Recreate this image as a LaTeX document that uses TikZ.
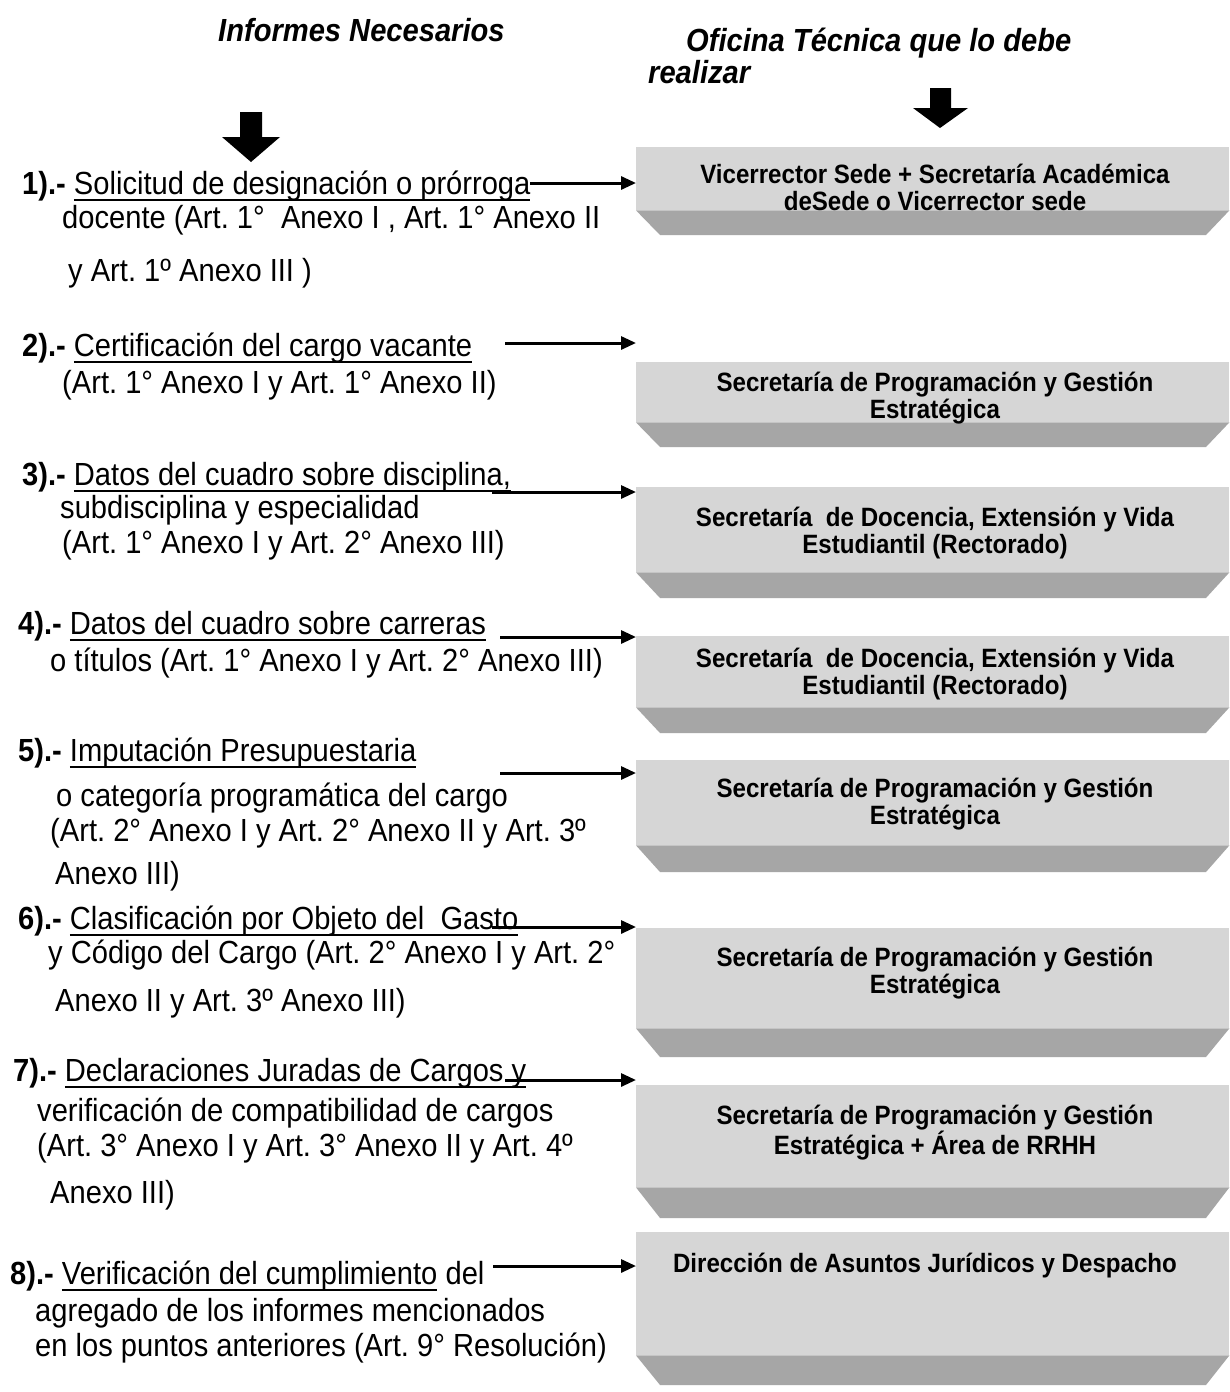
\documentclass[tikz,border=0pt]{standalone}
\usepackage{fontspec}
\setmainfont{Liberation Sans}[FakeStretch=0.91]
\usetikzlibrary{arrows.meta}
\definecolor{facegray}{RGB}{214,214,214}
\definecolor{bevelgray}{RGB}{166,166,166}
\frenchspacing
\newsavebox{\ulbox}
\newcommand{\myul}[1]{\savebox{\ulbox}{#1}\leavevmode\rlap{\rule[-6.5pt]{\wd\ulbox}{2pt}}\usebox{\ulbox}}
\tikzset{
  txt/.style={anchor=base west, inner sep=0pt, font=\fontsize{32}{36}\selectfont},
  head/.style={anchor=base west, inner sep=0pt, font=\bfseries\itshape\fontsize{32}{36}\selectfont},
  btxt/.style={align=center, inner sep=0pt, font=\bfseries\fontsize{26.5}{27}\selectfont},
  face/.style={fill=facegray, draw=none, anchor=north west, minimum width=593pt, inner sep=0pt},
  bevel/.style={fill=bevelgray, draw=none},
  conn/.style={line width=3pt, -{Triangle[length=15pt,width=13pt]}},
  blockarrow/.style={fill=black}
}
\newcommand{\officebox}[4]{%
  \node[face, minimum height={(#4-#3)*1pt}] (#1) at (636,#3) {};
  \fill[bevel] (#1.south west) -- (#1.south east) -- (1206,#2) -- (660,#2) -- cycle;
}
\begin{document}
\begin{tikzpicture}[x=1pt,y=-1pt]
\useasboundingbox (0,0) rectangle (1229,1392);
\fill[white] (0,0) rectangle (1229,1392);

% headers
\node[head] (h1) at (218,41) {Informes Necesarios};
\node[head] (h2) at (686,51) {Oficina Técnica que lo debe};
\node[head] (h3) at (648,83) {realizar};
\fill[blockarrow] (240,112) -- (262,112) -- (262,137) -- (280,137) -- (251,162) -- (222,137) -- (240,137) -- cycle;
\fill[blockarrow] (930,88) -- (951,88) -- (951,108) -- (968,108) -- (940,128) -- (913,108) -- (930,108) -- cycle;

% boxes: name, bevel bottom, face top, bevel top
\officebox{b1}{235}{147}{210}
\officebox{b2}{447}{362}{422}
\officebox{b3}{598}{487}{572}
\officebox{b4}{733}{636}{707}
\officebox{b5}{872}{760}{845}
\officebox{b6}{1057}{928}{1028}
\officebox{b7}{1218}{1085}{1187}
\officebox{b8}{1385}{1232}{1355}

\node[btxt] (t1) at (935,187) {Vicerrector Sede + Secretaría Académica\\deSede o Vicerrector sede};
\node[btxt] (t2) at (935,398) {Secretaría de Programación y Gestión\\Estratégica};
\node[btxt] (t3) at (935,533) {Secretaría\ \ de Docencia, Extensión y Vida\\Estudiantil (Rectorado)};
\node[btxt] (t4) at (935,674) {Secretaría\ \ de Docencia, Extensión y Vida\\Estudiantil (Rectorado)};
\node[btxt] (t5) at (935,804) {Secretaría de Programación y Gestión\\Estratégica};
\node[btxt] (t6) at (935,973) {Secretaría de Programación y Gestión\\Estratégica};
\node[btxt] (t7) at (935,1133) {Secretaría de Programación y Gestión\\Estratégica + Área de RRHH};
\node[btxt] (t8) at (925,1266) {Dirección de Asuntos Jurídicos y Despacho};

% item 1
\node[txt] (i1a) at (22,194) {\textbf{1).-} \myul{Solicitud de designación o prórroga}};
\node[txt] (i1b) at (62,228) {docente (Art. 1°\ \ Anexo I , Art. 1° Anexo II};
\node[txt] (i1c) at (68,281) {y Art. 1º Anexo III )};
% item 2
\node[txt] (i2a) at (22,356) {\textbf{2).-} \myul{Certificación del cargo vacante}};
\node[txt] (i2b) at (62,393) {(Art. 1° Anexo I y Art. 1° Anexo II)};
% item 3
\node[txt] (i3a) at (22,485) {\textbf{3).-} \myul{Datos del cuadro sobre disciplina,}};
\node[txt] (i3b) at (60,518) {subdisciplina y especialidad};
\node[txt] (i3c) at (62,553) {(Art. 1° Anexo I y Art. 2° Anexo III)};
% item 4
\node[txt] (i4a) at (18,634) {\textbf{4).-} \myul{Datos del cuadro sobre carreras}};
\node[txt] (i4b) at (50,671) {o títulos (Art. 1° Anexo I y Art. 2° Anexo III)};
% item 5
\node[txt] (i5a) at (18,761) {\textbf{5).-} \myul{Imputación Presupuestaria}};
\node[txt] (i5b) at (56,806) {o categoría programática del cargo};
\node[txt] (i5c) at (50,841) {(Art. 2° Anexo I y Art. 2° Anexo II y Art. 3º};
\node[txt] (i5d) at (55,884) {Anexo III)};
% item 6
\node[txt] (i6a) at (18,929) {\textbf{6).-} \myul{Clasificación por Objeto del\ \ Gasto}};
\node[txt] (i6b) at (48,963) {y Código del Cargo (Art. 2° Anexo I y Art. 2°};
\node[txt] (i6c) at (55,1011) {Anexo II y Art. 3º Anexo III)};
% item 7
\node[txt] (i7a) at (13,1081) {\textbf{7).-} \myul{Declaraciones Juradas de Cargos y}};
\node[txt] (i7b) at (37,1121) {verificación de compatibilidad de cargos};
\node[txt] (i7c) at (37,1156) {(Art. 3° Anexo I y Art. 3° Anexo II y Art. 4º};
\node[txt] (i7d) at (50,1203) {Anexo III)};
% item 8
\node[txt] (i8a) at (10,1284) {\textbf{8).-} \myul{Verificación del cumplimiento} del};
\node[txt] (i8b) at (35,1321) {agregado de los informes mencionados};
\node[txt] (i8c) at (35,1356) {en los puntos anteriores (Art. 9° Resolución)};

% connectors
\coordinate (s1) at (530,183);
\coordinate (s2) at (505,343);
\coordinate (s3) at (492,492);
\coordinate (s4) at (500,637);
\coordinate (s5) at (500,773);
\coordinate (s6) at (492,927);
\coordinate (s7) at (505,1080);
\coordinate (s8) at (493,1266);
\foreach \i in {1,...,8} {
  \draw[conn] (s\i) -- (s\i -| b\i.west);
}
\end{tikzpicture}
\end{document}
